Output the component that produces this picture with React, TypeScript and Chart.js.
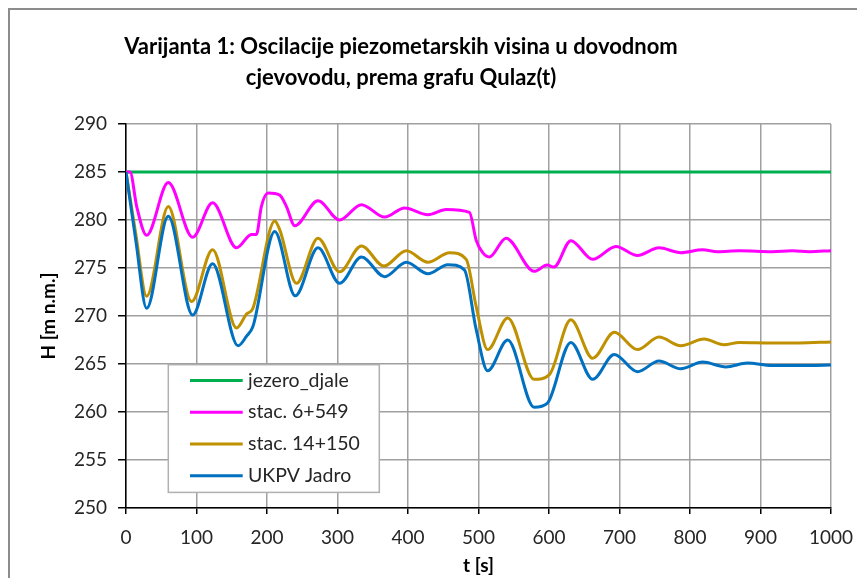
import React, { useEffect, useRef } from "react";
import { Chart, registerables } from "chart.js";

Chart.register(...registerables);

const titleLines = [
  "Varijanta 1: Oscilacije piezometarskih visina u dovodnom",
  "cjevovodu, prema grafu Qulaz(t)",
];
const xTitle = "t [s]";
const yTitle = "H [m n.m.]";
const seriesNames = ["jezero_djale", "stac. 6+549", "stac. 14+150", "UKPV Jadro"];
const seriesColors = ["#00b050", "#ff00ff", "#bf9000", "#0070c0"];

const xMin = 0;
const xMax = 1000;
const xStep = 100;
const yMin = 250;
const yMax = 290;
const yStep = 5;

// jezero_djale
const lakeT = [0, 1000];
const lakeH = [285, 285];

// stac. 6+549
const st6T = [0, 5.7, 15.2, 29.3, 60, 94.5, 122.8, 156.8, 178, 185, 192, 201.6, 218, 227.6, 239.4, 272.4, 303, 333.9, 366.9, 395.2, 428.2, 454.2, 487.2, 496.7, 506, 515.6, 539, 579, 597.5, 607, 631, 662, 695, 725.6, 756, 787, 818, 839, 870, 917, 945, 969, 1000];
const st6H = [285, 285, 281.4, 278.4, 283.9, 278.2, 281.8, 277.1, 278.5, 278.5, 281.4, 282.8, 282.6, 281.4, 279.4, 282.0, 280.0, 281.6, 280.3, 281.25, 280.55, 281.1, 280.8, 277.9, 276.6, 276.15, 278.1, 274.65, 275.3, 275.1, 277.85, 275.9, 277.25, 276.3, 277.1, 276.6, 276.9, 276.7, 276.8, 276.7, 276.8, 276.7, 276.8];

// stac. 14+150
const st14T = [0, 14, 29.3, 60, 93, 122.8, 156.8, 171, 180, 211, 218, 241.8, 272.4, 303, 333.9, 365.9, 397.6, 428.2, 459, 482.6, 496.7, 513, 541.5, 579, 600.6, 631, 662, 692.6, 725.6, 756, 787, 820, 848, 870, 916, 955, 1000];
const st14H = [285, 278.5, 272.05, 281.4, 271.5, 276.9, 268.75, 270.2, 270.8, 279.9, 279.0, 273.4, 278.1, 274.6, 277.3, 275.2, 276.8, 275.6, 276.6, 275.9, 271.0, 266.5, 269.8, 263.4, 263.9, 269.6, 265.6, 268.3, 266.5, 267.8, 266.9, 267.6, 267.0, 267.25, 267.2, 267.2, 267.3];

// UKPV Jadro
const ukpvT = [0, 14, 29.3, 60, 94.5, 122.8, 159, 171, 180, 211, 240, 272.4, 303, 333.9, 366.9, 397.6, 428.2, 456.5, 480, 496.7, 513, 541.5, 579, 597.5, 631, 662, 692.6, 725.6, 756, 787, 818, 851, 881.6, 916, 969, 1000];
const ukpvH = [285, 277.8, 270.8, 280.4, 270.1, 275.45, 266.9, 267.9, 268.9, 278.8, 272.1, 277.1, 273.4, 276.15, 274.1, 275.6, 274.4, 275.35, 274.8, 268.6, 264.3, 267.5, 260.5, 260.9, 267.25, 263.4, 266.0, 264.2, 265.3, 264.5, 265.2, 264.7, 265.1, 264.85, 264.85, 264.9];

const toPoints = (t: number[], h: number[]) => t.map((x, i) => ({ x, y: h[i] }));

const FONT = "Lato, 'Liberation Sans', Arial, sans-serif";

const titlePlugin = {
  id: "customTitle",
  afterDraw(chart: any) {
    const ctx = chart.ctx;
    ctx.save();
    ctx.font = `bold 22px ${FONT}`;
    ctx.fillStyle = "#000000";
    ctx.textAlign = "center";
    ctx.textBaseline = "middle";
    const cx = 391;
    ctx.fillText(titleLines[0], cx, 37);
    ctx.fillText(titleLines[1], cx, 68);
    ctx.restore();
  },
};

const legendPlugin = {
  id: "customLegend",
  afterDraw(chart: any) {
    const ctx = chart.ctx;
    const a = chart.chartArea;
    const bx = a.left + 42.3;
    const by = a.top + 240.7;
    const bw = 211;
    const bh = 127.7;
    ctx.save();
    ctx.fillStyle = "#ffffff";
    ctx.fillRect(bx, by, bw, bh);
    ctx.strokeStyle = "#b0b0b0";
    ctx.lineWidth = 1.5;
    ctx.strokeRect(bx, by, bw, bh);
    ctx.font = `19.5px ${FONT}`;
    ctx.textBaseline = "middle";
    ctx.textAlign = "left";
    chart.data.datasets.forEach((ds: any, i: number) => {
      const y = by + 15.7 + i * 31.8;
      ctx.strokeStyle = ds.borderColor;
      ctx.lineWidth = 3;
      ctx.beginPath();
      ctx.moveTo(bx + 21.7, y);
      ctx.lineTo(bx + 74.4, y);
      ctx.stroke();
      ctx.fillStyle = "#262626";
      ctx.fillText(ds.label, bx + 79.7, y);
    });
    ctx.restore();
  },
};

export default function App() {
  const ref = useRef<HTMLCanvasElement | null>(null);

  useEffect(() => {
    document.body.style.overflow = "hidden";
    const canvas = ref.current;
    if (!canvas) return;
    const series = [
      toPoints(lakeT, lakeH),
      toPoints(st6T, st6H),
      toPoints(st14T, st14H),
      toPoints(ukpvT, ukpvH),
    ];
    const chart = new Chart(canvas, {
      type: "line",
      data: {
        datasets: series.map((data, i) => ({
          label: seriesNames[i],
          data,
          borderColor: seriesColors[i],
          backgroundColor: seriesColors[i],
          borderWidth: 3,
          pointRadius: 0,
          fill: false,
          cubicInterpolationMode: "monotone" as const,
          order: 3 - i,
        })),
      },
      options: {
        animation: false,
        responsive: false,
        devicePixelRatio: 1,
        layout: { padding: { left: 16, right: 33, top: 114, bottom: 0 } },
        plugins: {
          legend: { display: false },
          title: { display: false },
          tooltip: { enabled: false },
        },
        scales: {
          x: {
            type: "linear",
            min: xMin,
            max: xMax,
            ticks: {
              stepSize: xStep,
              color: "#262626",
              font: { family: FONT, size: 19 },
              padding: 12,
              maxRotation: 0,
              callback: (v: any) => String(v),
            },
            grid: {
              color: "#a0a0a0",
              lineWidth: 1.5,
              tickColor: "#000000",
              tickLength: 6,
            },
            border: { display: true, color: "#000000", width: 1.5 },
            title: {
              display: true,
              text: xTitle,
              color: "#000000",
              font: { family: FONT, size: 19, weight: "bold" },
              padding: { top: 2, bottom: 1 },
            },
            afterFit: (s: any) => {
              s.height = 70;
            },
          },
          y: {
            type: "linear",
            min: yMin,
            max: yMax,
            ticks: {
              stepSize: yStep,
              color: "#262626",
              font: { family: FONT, size: 19 },
              padding: 11,
              callback: (v: any) => String(v),
            },
            grid: {
              color: "#a0a0a0",
              lineWidth: 1.5,
              tickColor: "#000000",
              tickLength: 8,
            },
            border: { display: true, color: "#000000", width: 1.5 },
            title: {
              display: true,
              text: yTitle,
              color: "#000000",
              font: { family: FONT, size: 19, weight: "bold" },
              padding: { top: 11, bottom: 11 },
            },
            afterFit: (s: any) => {
              s.width = 100;
            },
          },
        },
      },
      plugins: [titlePlugin, legendPlugin],
    });
    return () => chart.destroy();
  }, []);

  return (
    <div
      style={{
        width: 855,
        height: 568,
        borderTop: "2px solid #8c8c8c",
        borderLeft: "2px solid #8c8c8c",
        background: "#ffffff",
      }}
    >
      <canvas ref={ref} width={855} height={568} style={{ display: "block" }} />
    </div>
  );
}
